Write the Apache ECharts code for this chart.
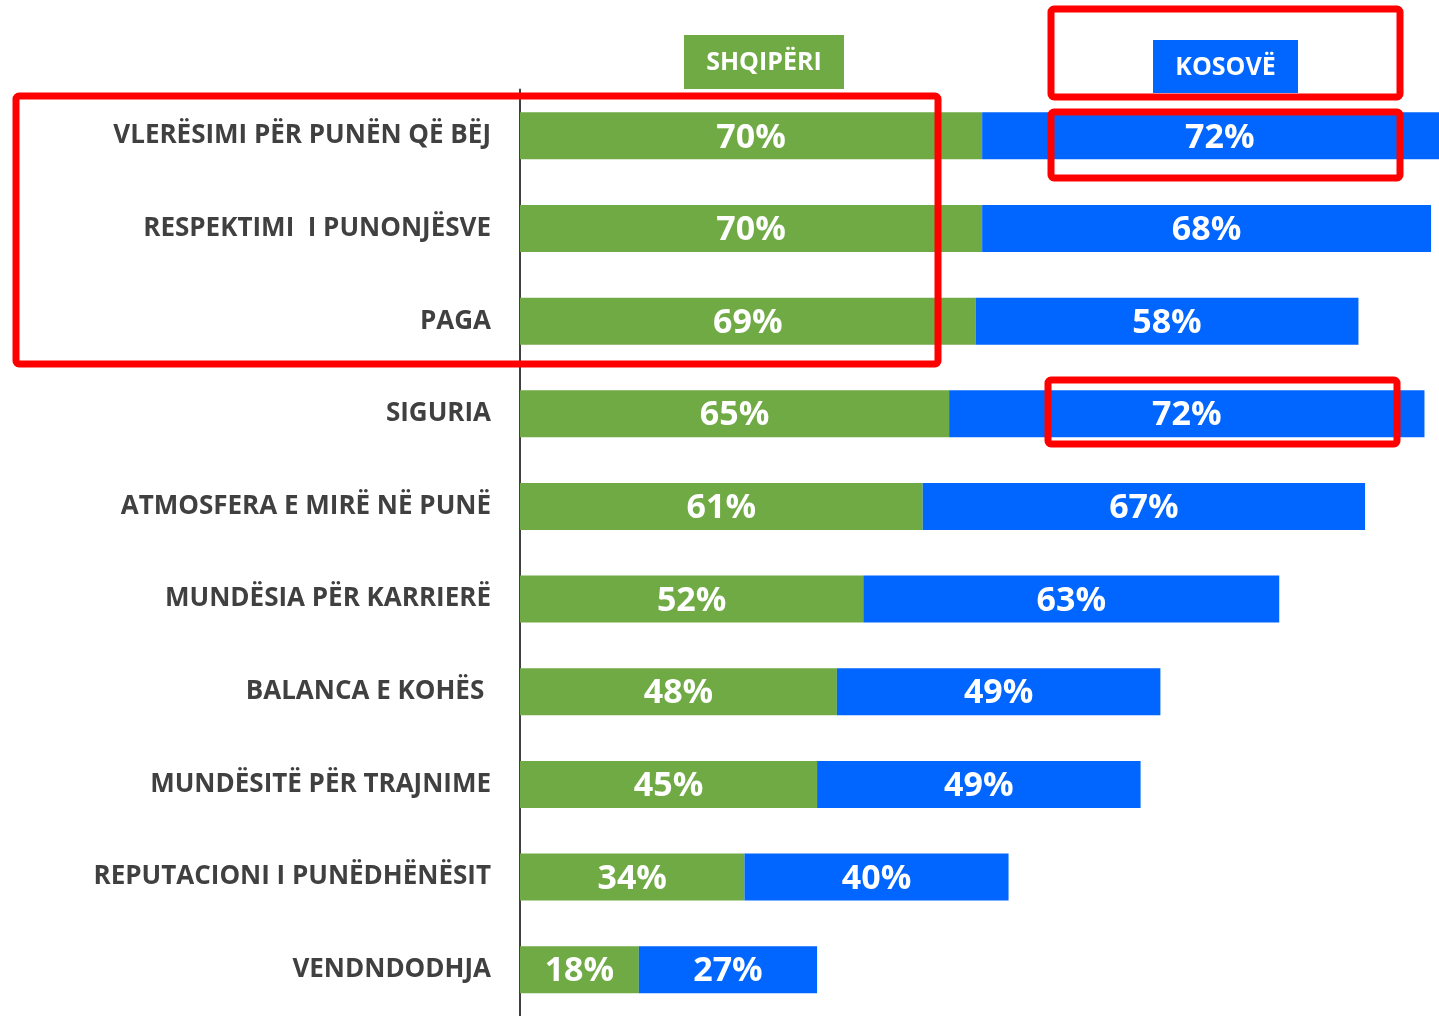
<!DOCTYPE html>
<html>
<head>
<meta charset="utf-8">
<script src="https://cdn.jsdelivr.net/npm/echarts@6/dist/echarts.min.js"></script>
<style>
	html, body { margin:0; padding:0; background:#fff; }
	#chart { width:1439px; height:1016px; }
</style>
</head>
<body>
<div id="chart"></div>
<script>
/*kategoritë*/
var categories = ['VLERËSIMI PËR PUNËN QË BËJ', 'RESPEKTIMI  I PUNONJËSVE', 'PAGA', 'SIGURIA',
	'ATMOSFERA E MIRË NË PUNË', 'MUNDËSIA PËR KARRIERË', 'BALANCA E KOHËS ',
	'MUNDËSITË PËR TRAJNIME', 'REPUTACIONI I PUNËDHËNËSIT', 'VENDNDODHJA'];
/*Shqipëri (%)*/
var albania = [70, 70, 69, 65, 61, 52, 48, 45, 34, 18];
/*Kosovë (%)*/
var kosovo = [72, 68, 58, 72, 67, 63, 49, 49, 40, 27];
var seriesNames = ['SHQIPËRI', 'KOSOVË'];

var green = '#70AA44';
var blue = '#0066FF';
var font = '"Open Sans", "Noto Sans", sans-serif';

function redBox(x, y, w, h){
	return {
		type : 'rect',
		shape : { x : x, y : y, width : w, height : h, r : 3 },
		style : { fill : 'none', stroke : '#FF0000', lineWidth : 7 },
		z : 100
	};
}

function header(text, x, y, w, h, color){
	return {
		type : 'group',
		children : [ {
			type : 'rect',
			shape : { x : x, y : y, width : w, height : h },
			style : { fill : color }
		}, {
			type : 'text',
			x : x + w / 2,
			y : y + h / 2 + 1,
			style : {
				text : text,
				fill : '#fff',
				font : 'bold 25px ' + font,
				align : 'center',
				verticalAlign : 'middle'
			}
		} ]
	};
}

function barLabel(){
	return {
		show : true,
		position : 'inside',
		offset : [ 0, 2 ],
		formatter : '{c}%',
		color : '#fff',
		fontFamily : font,
		fontWeight : 'bold',
		fontSize : 34
	};
}

$chart = echarts.init(document.getElementById('chart'));
var option = {
	animation : false,
	grid : {
		left : 520,
		right : 0,
		top : 89.5,
		height : 930,
		containLabel : false
	},
	xAxis : {
		type : 'value',
		min : 0,
		max : 139.2,
		show : false,
		splitLine : { show : false }
	},
	yAxis : {
		type : 'category',
		inverse : true,
		data : categories,
		axisLine : { show : true, lineStyle : { color : '#404040', width : 2 } },
		axisTick : { show : false },
		axisLabel : {
			margin : 29,
			color : '#404040',
			fontFamily : font,
			fontWeight : 'bold',
			fontSize : 26
		}
	},
	series : [ {
		name : seriesNames[0],
		type : 'bar',
		stack : 'total',
		clip : false,
		data : albania,
		barWidth : 47,
		itemStyle : { color : green },
		label : barLabel()
	}, {
		name : seriesNames[1],
		type : 'bar',
		stack : 'total',
		clip : false,
		data : kosovo,
		barWidth : 47,
		itemStyle : { color : blue },
		label : barLabel()
	} ],
	graphic : [
		header(seriesNames[0], 684, 35, 160, 54, green),
		header(seriesNames[1], 1153, 40, 145, 53, blue),
		redBox(16, 96, 922, 268),
		redBox(1051, 9, 349, 88),
		redBox(1051, 112, 349, 66),
		redBox(1048, 380, 349, 64)
	]
};
$chart.setOption(option);
</script>
</body>
</html>
